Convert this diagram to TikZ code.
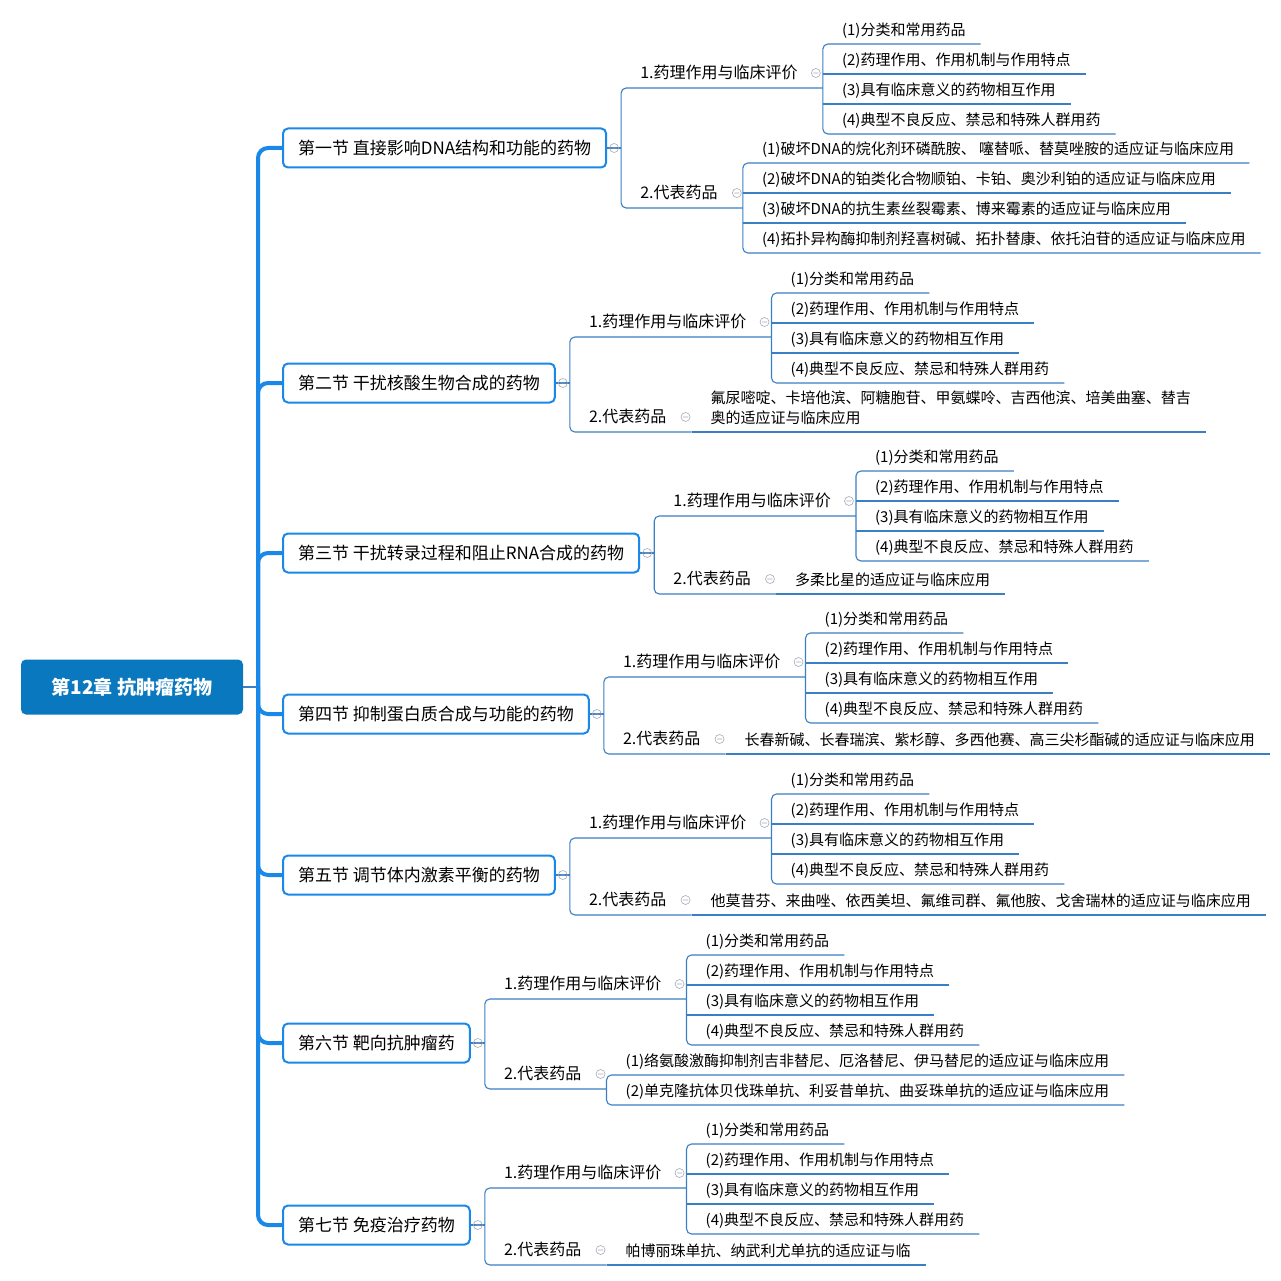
\documentclass[tikz,border=0pt]{standalone}
\usepackage{fontspec}
\setmainfont{Noto Sans CJK SC}
\usetikzlibrary{positioning}

\definecolor{rootblue}{HTML}{0A78BE}
\definecolor{trunkblue}{HTML}{1A88E8}
\definecolor{linkblue}{HTML}{3A7EC4}
\definecolor{foldgray}{HTML}{A3ACBA}

% small collapse mark next to a topic
\newcommand{\foldmark}[1]{\draw[fold] (#1) circle (4.5pt) +(-2.5pt,0) -- +(2.5pt,0);}

\begin{document}
\begin{tikzpicture}[x=1pt, y=-1pt,
  root/.style={fill=rootblue, rounded corners=5pt, text=white,
               font=\bfseries\fontsize{19}{23}\selectfont,
               minimum width=222pt, minimum height=55pt},
  section/.style={draw=trunkblue, line width=2pt, fill=white, rounded corners=5pt,
                  anchor=west, inner xsep=15pt, minimum height=39pt,
                  font=\fontsize{17}{20}\selectfont},
  branch/.style={anchor=south west, inner xsep=0pt, inner ysep=6pt,
                 text height=12pt, text depth=3pt,
                 font=\fontsize{16}{20}\selectfont,
                 execute at begin node={\hspace*{19pt}},
                 execute at end node={\hspace*{25pt}}},
  item/.style={anchor=south west, inner xsep=0pt, inner ysep=5pt,
               text height=11pt, text depth=3pt,
               font=\fontsize{15}{20}\selectfont,
               execute at begin node={\hspace*{19pt}},
               execute at end node={\hspace*{15pt}}},
  link/.style={draw=linkblue, line width=1.1pt, rounded corners=5pt},
  trunk/.style={draw=trunkblue, line width=4pt, rounded corners=10pt},
  fold/.style={draw=foldgray, line width=0.6pt}
]
\useasboundingbox[fill=white] (0,0) rectangle (1280,1281);

% chapter and sections
\node[root] (root) at (132,687) {第12章 抗肿瘤药物};
\node[section] (sa) at (282,148) {第一节 直接影响DNA结构和功能的药物};
\node[section] (sb) at (282,383) {第二节 干扰核酸生物合成的药物};
\node[section] (sc) at (282,553) {第三节 干扰转录过程和阻止RNA合成的药物};
\node[section] (sd) at (282,714) {第四节 抑制蛋白质合成与功能的药物};
\node[section] (se) at (282,875) {第五节 调节体内激素平衡的药物};
\node[section] (sf) at (282,1043) {第六节 靶向抗肿瘤药};
\node[section] (sg) at (282,1225) {第七节 免疫治疗药物};

\coordinate (tk) at (258,687);
\draw[link, rounded corners=0pt] (root.east) -- (tk);
\foreach \s in {a,...,g} \draw[trunk] (tk) |- (s\s.west);

% second level
\foreach \s/\ya/\yb in {a/88/208, b/337/432, c/516/594, d/677/754,
                        e/838/915, f/999/1089, g/1188/1265} {
  \coordinate (b\s) at ([xshift=14pt]s\s.east);
  \node[branch] (\s1) at (b\s |- 0,\ya) {1.药理作用与临床评价};
  \node[branch] (\s2) at (b\s |- 0,\yb) {2.代表药品};
  \draw[link] (s\s.east) -- (b\s);
  \draw[link] (\s1.south east) -- (\s1.south west) -- (\s2.south west) -- (\s2.south east);
  \foldmark{[xshift=7pt]s\s.east}
  \foldmark{[xshift=-7pt,yshift=15pt]\s1.south east}
  \foldmark{[xshift=-6pt,yshift=15pt]\s2.south east}
}

% the same four evaluation points in every section
\foreach \s/\y in {a/44, b/293, c/471, d/633, e/794, f/955, g/1144} {
  \node[item] (\s11) at (\s1.south east |- 0,\y) {(1)分类和常用药品};
  \node[item] (\s12) at (\s1.south east |- 0,\y+30) {(2)药理作用、作用机制与作用特点};
  \node[item] (\s13) at (\s1.south east |- 0,\y+60) {(3)具有临床意义的药物相互作用};
  \node[item] (\s14) at (\s1.south east |- 0,\y+90) {(4)典型不良反应、禁忌和特殊人群用药};
  \draw[link] (\s11.south east) -- (\s11.south west) -- (\s14.south west) -- (\s14.south east);
  \draw[link] (\s12.south west) -- (\s12.south east);
  \draw[link] (\s13.south west) -- (\s13.south east);
}

% representative drugs
\node[item] (a21) at (a2.south east |- 0,163) {(1)破坏DNA的烷化剂环磷酰胺、 噻替哌、替莫唑胺的适应证与临床应用};
\node[item] (a22) at (a2.south east |- 0,193) {(2)破坏DNA的铂类化合物顺铂、卡铂、奥沙利铂的适应证与临床应用};
\node[item] (a23) at (a2.south east |- 0,223) {(3)破坏DNA的抗生素丝裂霉素、博来霉素的适应证与临床应用};
\node[item] (a24) at (a2.south east |- 0,253) {(4)拓扑异构酶抑制剂羟喜树碱、拓扑替康、依托泊苷的适应证与临床应用};
\draw[link] (a21.south east) -- (a21.south west) -- (a24.south west) -- (a24.south east);
\draw[link] (a22.south west) -- (a22.south east);
\draw[link] (a23.south west) -- (a23.south east);

\node[item, text height={}, text depth={}, inner ysep=2pt] (b21) at (b2.south east |- 0,432)
  {\begin{tabular}{@{}l@{}}氟尿嘧啶、卡培他滨、阿糖胞苷、甲氨蝶呤、吉西他滨、培美曲塞、替吉\\奥的适应证与临床应用\end{tabular}};
\draw[link] (b21.south west) -- (b21.south east);

\node[item] (c21) at (c2.south east |- 0,594) {多柔比星的适应证与临床应用};
\draw[link] (c21.south west) -- (c21.south east);

\node[item] (d21) at (d2.south east |- 0,754) {长春新碱、长春瑞滨、紫杉醇、多西他赛、高三尖杉酯碱的适应证与临床应用};
\draw[link] (d21.south west) -- (d21.south east);

\node[item] (e21) at (e2.south east |- 0,915) {他莫昔芬、来曲唑、依西美坦、氟维司群、氟他胺、戈舍瑞林的适应证与临床应用};
\draw[link] (e21.south west) -- (e21.south east);

\node[item] (f21) at (f2.south east |- 0,1075) {(1)络氨酸激酶抑制剂吉非替尼、厄洛替尼、伊马替尼的适应证与临床应用};
\node[item] (f22) at (f2.south east |- 0,1105) {(2)单克隆抗体贝伐珠单抗、利妥昔单抗、曲妥珠单抗的适应证与临床应用};
\draw[link] (f21.south east) -- (f21.south west) -- (f22.south west) -- (f22.south east);

\node[item] (g21) at (g2.south east |- 0,1265) {帕博丽珠单抗、纳武利尤单抗的适应证与临};
\draw[link] (g21.south west) -- (g21.south east);
\end{tikzpicture}
\end{document}
